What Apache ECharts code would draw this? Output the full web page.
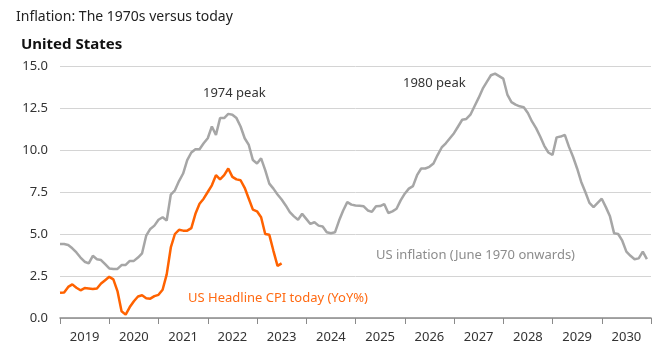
<!DOCTYPE html>
<html>
<head>
<meta charset="utf-8">
<script src="https://cdn.jsdelivr.net/npm/echarts@6/dist/echarts.min.js"></script>
<style>
  html, body { margin: 0; padding: 0; background: #fff; }
  #chart { width: 672px; height: 350px; }
</style>
</head>
<body>
<div id="chart"></div>
<script>
// years shown under the axis
const years = ['2019', '2020', '2021', '2022', '2023', '2024', '2025', '2026', '2027', '2028', '2029', '2030'];

// US inflation, June 1970 onwards, shifted to start in Jan 2019 (monthly)
const usInflation1970s = [
    4.4, 4.4, 4.35, 4.15, 3.9, 3.6, 3.35, 3.25, 3.7, 3.5, 3.45, 3.2,
    2.95, 2.92, 2.92, 3.15, 3.16, 3.4, 3.4, 3.6, 3.85, 4.9, 5.3, 5.5,
    5.85, 6.0, 5.8, 7.35, 7.6, 8.15, 8.6, 9.4, 9.85, 10.05, 10.05, 10.4,
    10.7, 11.4, 10.9, 11.9, 11.9, 12.15, 12.1, 11.9, 11.4, 10.7, 10.3, 9.4,
    9.2, 9.5, 8.8, 8.0, 7.7, 7.35, 7.05, 6.7, 6.3, 6.05, 5.85, 6.2,
    5.9, 5.6, 5.7, 5.5, 5.45, 5.1, 5.05, 5.1, 5.8, 6.4, 6.9, 6.75,
    6.7, 6.68, 6.65, 6.4, 6.32, 6.65, 6.66, 6.78, 6.25, 6.35, 6.5, 7.0,
    7.4, 7.7, 7.85, 8.5, 8.9, 8.9, 9.0, 9.2, 9.7, 10.15, 10.4, 10.7,
    11.0, 11.4, 11.8, 11.85, 12.1, 12.6, 13.1, 13.65, 14.05, 14.45, 14.55, 14.4,
    14.25, 13.3, 12.85, 12.7, 12.6, 12.55, 12.2, 11.7, 11.3, 10.8, 10.25, 9.85,
    9.7, 10.75, 10.8, 10.9, 10.2, 9.6, 8.9, 8.1, 7.5, 6.85, 6.6, 6.85,
    7.1, 6.6, 6.05, 5.05, 5.0, 4.6, 3.95, 3.7, 3.5, 3.55, 3.95, 3.5
];

// US headline CPI YoY%, Jan 2019 - Jul 2023
const usCpiToday = [
    1.5, 1.52, 1.85, 2.0, 1.8, 1.65, 1.78, 1.75, 1.72, 1.76, 2.05, 2.25,
    2.45, 2.3, 1.6, 0.4, 0.2, 0.65, 1.0, 1.28, 1.35, 1.18, 1.15, 1.3,
    1.38, 1.68, 2.6, 4.2, 5.0, 5.25, 5.2, 5.2, 5.35, 6.2, 6.8, 7.1,
    7.5, 7.9, 8.5, 8.25, 8.5, 8.9, 8.4, 8.25, 8.2, 7.75, 7.1, 6.45,
    6.35, 6.0, 5.0, 4.95, 4.0, 3.1, 3.25
];

// monthly categories Jan 2019 .. Jan 2031
const months = [];
for (let y = 2019; y <= 2031; y++) {
    for (let m = 1; m <= 12; m++) {
        if (y === 2031 && m > 1) break;
        months.push(y + '-' + (m < 10 ? '0' + m : m));
    }
}

const chart = echarts.init(document.getElementById('chart'));
const font = '"Noto Sans", sans-serif';

chart.setOption({
    animation: false,
    textStyle: { fontFamily: font },
    title: [
        {
            text: 'Inflation: The 1970s versus today',
            left: 16, top: 10, padding: 0,
            textStyle: { fontSize: 14, fontWeight: 'normal', color: '#222', fontFamily: font }
        },
        {
            text: 'United States',
            left: 21, top: 37, padding: 0,
            textStyle: { fontSize: 15, fontWeight: 'bold', color: '#111', fontFamily: font }
        }
    ],
    grid: { left: 60, right: 21, top: 66, bottom: 32 },
    xAxis: [
        {
            type: 'category',
            data: months,
            boundaryGap: false,
            axisLine: { lineStyle: { color: '#8a8a8a', width: 1.5 } },
            axisTick: {
                length: 6,
                interval: function (i) { return i % 12 === 0; },
                lineStyle: { color: '#8a8a8a', width: 1 }
            },
            axisLabel: { show: false },
            splitLine: { show: false }
        },
        {
            type: 'category',
            data: years,
            position: 'bottom',
            boundaryGap: true,
            axisLine: { show: false },
            axisTick: { show: false },
            axisLabel: { color: '#333', fontSize: 13, margin: 13, fontFamily: font }
        }
    ],
    yAxis: {
        type: 'value',
        min: 0, max: 15, interval: 2.5,
        axisLine: { show: false },
        axisTick: { show: false },
        axisLabel: {
            color: '#333', fontSize: 13, margin: 12, fontFamily: font,
            formatter: function (v) { return v.toFixed(1); }
        },
        splitLine: { lineStyle: { color: '#d4d4d4', width: 1 } }
    },
    series: [
        {
            name: 'US inflation (June 1970 onwards)',
            type: 'line',
            data: usInflation1970s,
            symbol: 'none',
            lineStyle: { color: '#a6a6a6', width: 2.5 },
            itemStyle: { color: '#a6a6a6' }
        },
        {
            name: 'US Headline CPI today (YoY%)',
            type: 'line',
            data: usCpiToday,
            symbol: 'none',
            lineStyle: { color: '#ff6200', width: 2.5 },
            itemStyle: { color: '#ff6200' }
        }
    ],
    graphic: [
        {
            type: 'text', left: 203, top: 87,
            style: { text: '1974 peak', font: '13px ' + font, fill: '#333' }
        },
        {
            type: 'text', left: 403, top: 77,
            style: { text: '1980 peak', font: '13px ' + font, fill: '#333' }
        },
        {
            type: 'text', left: 376, top: 249,
            style: { text: 'US inflation (June 1970 onwards)', font: '13px ' + font, fill: '#8c8c8c' }
        },
        {
            type: 'text', left: 188, top: 292,
            style: { text: 'US Headline CPI today (YoY%)', font: '13px ' + font, fill: '#ff6a13' }
        }
    ]
});

window.addEventListener('resize', function () {
    chart.resize();
});
</script>
</body>
</html>
